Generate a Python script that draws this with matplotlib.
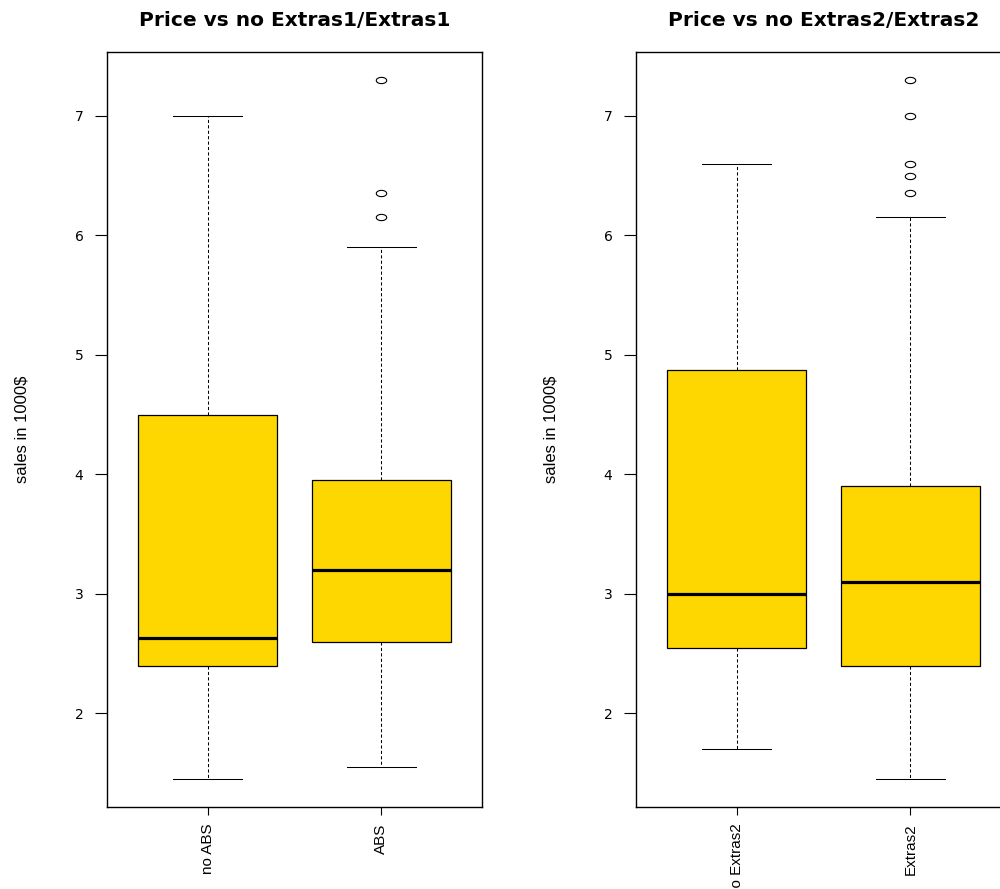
import numpy as np
import matplotlib
matplotlib.use("Agg")
import matplotlib.pyplot as plt
from matplotlib.path import Path

# five-number summaries per group: lower whisker, Q1, median, Q3, upper whisker
titles = ["Price vs no Extras1/Extras1", "Price vs no Extras2/Extras2"]
labels = [["no ABS", "ABS"], ["no Extras2", "Extras2"]]

whislo = [[1.45, 1.55], [1.70, 1.45]]
q1 = [[2.40, 2.60], [2.55, 2.40]]
med = [[2.63, 3.20], [3.00, 3.10]]
q3 = [[4.50, 3.95], [4.87, 3.90]]
whishi = [[7.00, 5.90], [6.60, 6.15]]
fliers = [[[], [7.30, 6.35, 6.15]], [[], [7.30, 7.00, 6.60, 6.50, 6.35]]]

ylabel = "sales in 1000$"
yticks = [2, 3, 4, 5, 6, 7]

narrow = ["Liberation Sans Narrow", "Liberation Sans", "DejaVu Sans"]

# open ellipse for outliers (R-style "o", squashed vertically)
t = np.linspace(0, 2 * np.pi, 41)
ellipse = Path(np.column_stack([np.cos(t), 0.6 * np.sin(t)]), closed=True)

fig = plt.figure(figsize=(10, 8.89), dpi=100)
axes = [fig.add_axes([0.107, 0.0922, 0.375, 0.8493]),
        fig.add_axes([0.636, 0.0922, 0.375, 0.8493])]

for k, ax in enumerate(axes):
    stats = []
    for j in range(2):
        stats.append(dict(whislo=whislo[k][j], q1=q1[k][j], med=med[k][j],
                          q3=q3[k][j], whishi=whishi[k][j], fliers=[],
                          label=labels[k][j]))
    ax.bxp(stats, positions=[1, 2], widths=0.8, capwidths=0.4, patch_artist=True,
           showfliers=False,
           boxprops=dict(facecolor="#FFD700", edgecolor="black", linewidth=0.9),
           medianprops=dict(color="black", linewidth=2.3, solid_capstyle="butt"),
           whiskerprops=dict(color="black", linewidth=0.75, linestyle=(0, (3, 2.2))),
           capprops=dict(color="black", linewidth=0.75))

    # outliers
    for j in range(2):
        if fliers[k][j]:
            ax.plot([j + 1] * len(fliers[k][j]), fliers[k][j], linestyle="none",
                    marker=ellipse, markersize=7.5, markerfacecolor="none",
                    markeredgecolor="black", markeredgewidth=0.8)

    # R default axis range: data range padded by 4% on each side
    allv = whislo[k] + whishi[k] + sum(fliers[k], [])
    lo, hi = min(allv), max(allv)
    pad = 0.04 * (hi - lo)
    ax.set_ylim(lo - pad, hi + pad)
    ax.set_xlim(0.42, 2.58)

    ax.set_yticks(yticks)
    ax.set_yticklabels([str(v) for v in yticks], fontsize=10, family="DejaVu Sans")
    ax.set_xticks([1, 2])
    ax.set_xticklabels(labels[k], rotation=90, fontsize=11, family=narrow)
    ax.tick_params(axis="y", length=9, width=0.8, pad=8)
    ax.tick_params(axis="x", length=6, width=0.8, pad=6)

    for sp in ax.spines.values():
        sp.set_linewidth(1.0)

    ax.set_ylabel(ylabel, fontsize=12, family=narrow)
    ax.yaxis.set_label_coords(-0.207, 0.5)
    ax.set_title(titles[k], fontsize=14.5, fontweight="bold", family="DejaVu Sans", pad=19)

fig.savefig("out.png", dpi=100)
